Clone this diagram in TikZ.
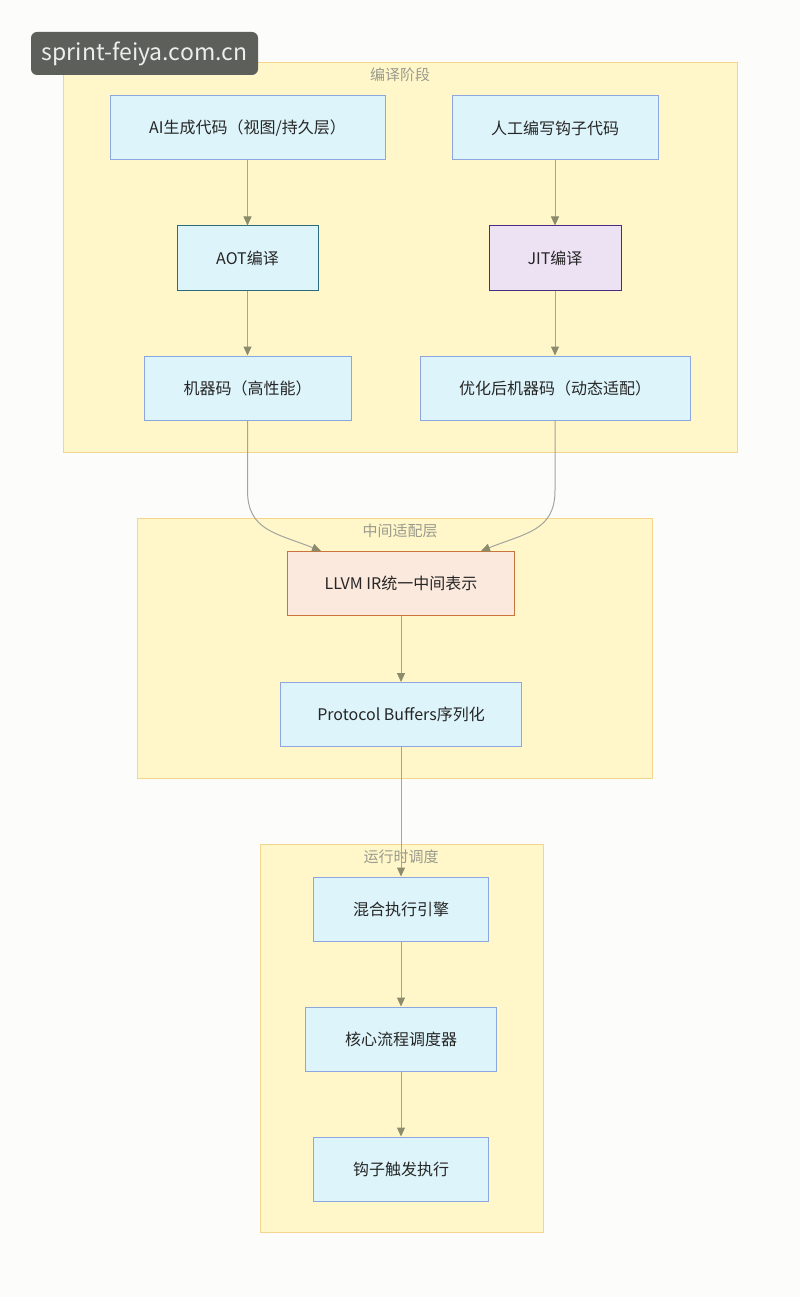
\documentclass[tikz,border=0pt]{standalone}
\usepackage{fontspec}
\setmainfont{Noto Sans CJK SC}
\usepackage{tikz}
\usetikzlibrary{positioning,arrows.meta,calc}
\definecolor{PageBg}{HTML}{FCFCFA}
\definecolor{GrpFill}{HTML}{FFF7C9}
\definecolor{GrpLine}{HTML}{F3D58E}
\definecolor{GrpText}{HTML}{9A9A8E}
\definecolor{BoxFill}{HTML}{DDF4FA}
\definecolor{BoxLine}{HTML}{8EA6DE}
\definecolor{AotLine}{HTML}{2C6B7A}
\definecolor{JitFill}{HTML}{EDE1F4}
\definecolor{JitLine}{HTML}{4A2C80}
\definecolor{IrFill}{HTML}{FBE9DE}
\definecolor{IrLine}{HTML}{C8743C}
\definecolor{EdgeLine}{HTML}{A3A3A0}
\definecolor{EdgeTip}{HTML}{8C8C6C}
\definecolor{MarkFill}{HTML}{5C5F5A}

\begin{document}
\begin{tikzpicture}[x=1pt, y=-1pt,
  grp/.style={draw=GrpLine, fill=GrpFill, line width=1pt},
  grplbl/.style={text=GrpText, font=\fontsize{15}{17}\selectfont, inner sep=0pt},
  blk/.style={draw=BoxLine, fill=BoxFill, line width=1pt, minimum height=64pt, inner sep=0pt, text=black!85, font=\fontsize{16}{19}\selectfont},
  flow/.style={draw=EdgeLine, line width=1pt, -{Triangle[length=9pt, width=8pt, color=EdgeTip]}},
  node distance=65pt]
\useasboundingbox (0,0) rectangle (800,1297);
\fill[PageBg] (0,0) rectangle (800,1297);

% groups
\draw[grp] (63,63) rectangle (737,452);
\draw[grp] (137,518) rectangle (652,778);
\draw[grp] (260,844) rectangle (543,1232);
\node[grplbl] (g1) at (400,75) {编译阶段};
\node[grplbl] (g2) at (400,531) {中间适配层};
\node[grplbl] (g3) at (401,857) {运行时调度};

% compile stage
\node[blk, minimum width=275pt] (ai) at (247.5,128) {AI生成代码（视图/持久层）};
\node[blk, minimum width=206pt] (hook) at (555,128) {人工编写钩子代码};
\node[blk, draw=AotLine, minimum width=141pt, below=of ai] (aot) {AOT编译};
\node[blk, fill=JitFill, draw=JitLine, minimum width=132pt, below=of hook] (jit) {JIT编译};
\node[blk, minimum width=207pt, below=of aot] (mc) {机器码（高性能）};
\node[blk, minimum width=270pt, below=of jit] (omc) {优化后机器码（动态适配）};

% adapter layer
\node[blk, fill=IrFill, draw=IrLine, minimum width=227pt] (ir) at (401,583.5) {LLVM IR统一中间表示};
\node[blk, minimum width=241pt, below=66pt of ir] (pb) {Protocol Buffers序列化};

% runtime
\node[blk, minimum width=175pt] (mix) at (401,909) {混合执行引擎};
\node[blk, minimum width=191pt, below=of mix] (core) {核心流程调度器};
\node[blk, minimum width=175pt, below=of core] (trig) {钩子触发执行};

\coordinate (irl) at ($(ir.north west)+(34,0)$);
\coordinate (irr) at ($(ir.north east)+(-34,0)$);

\draw[flow] (ai) -- (aot);
\draw[flow] (aot) -- (mc);
\draw[flow] (hook) -- (jit);
\draw[flow] (jit) -- (omc);
\draw[flow] (mc.south) -- ++(0,70) .. controls +(0,40) and +(-45,-18) .. (irl);
\draw[flow] (omc.south) -- ++(0,70) .. controls +(0,40) and +(45,-18) .. (irr);
\draw[flow] (ir) -- (pb);
\draw[flow] (pb) -- (mix);
\draw[flow] (mix) -- (core);
\draw[flow] (core) -- (trig);

% watermark
\node[fill=MarkFill, rounded corners=6pt, text=white!93!black, minimum width=227pt, minimum height=43pt, inner sep=0pt, font=\fontsize{23}{26}\selectfont] (mark) at (144.5,53.5) {sprint-feiya.com.cn};
\end{tikzpicture}
\end{document}
